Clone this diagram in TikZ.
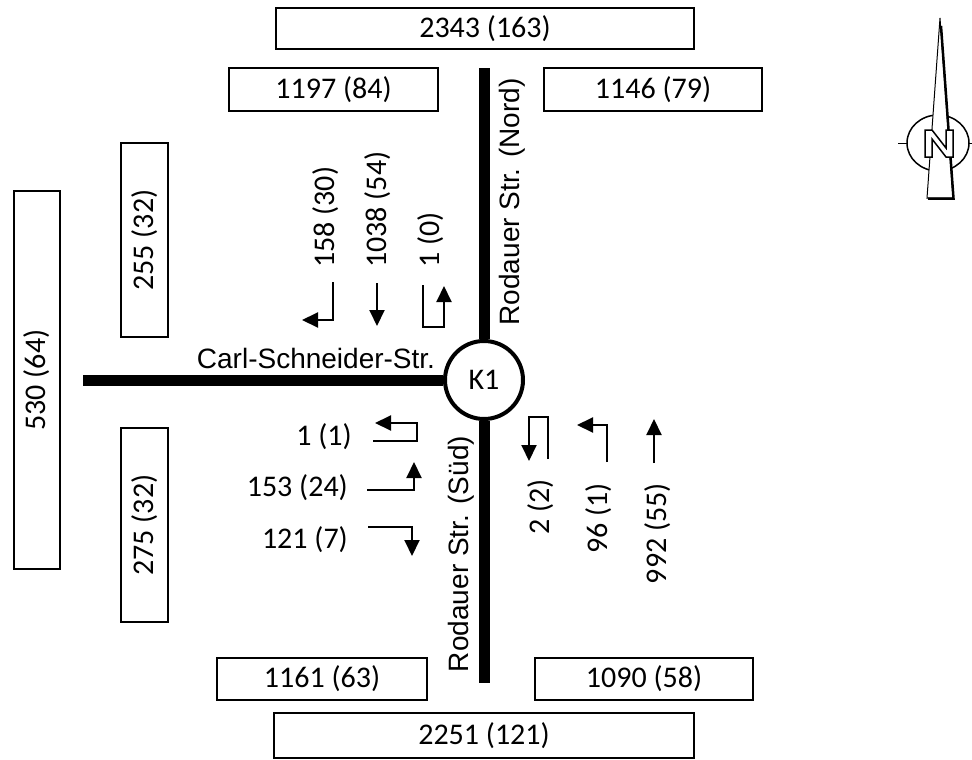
\documentclass[tikz,border=0pt]{standalone}
\usepackage{fontspec}
\setmainfont{Carlito}
\newfontfamily\arialf{Liberation Sans}
\usetikzlibrary{arrows.meta}
\begin{document}
\begin{tikzpicture}[x=1pt,y=-1pt,
  countbox/.style={draw,line width=2pt,inner sep=0pt,font=\fontsize{30}{35}\selectfont},
  road/.style={line width=11pt},
  lbl/.style={inner sep=0pt,font=\fontsize{30}{35}\selectfont},
  street/.style={inner sep=0pt,font=\arialf\fontsize{28}{34}\selectfont},
  turn/.style={line width=2pt,line join=miter,-{Triangle[length=16pt 0 0,width=15pt 0 0]}}]
\useasboundingbox (0,0) rectangle (972,760);
% count boxes
\node[countbox,minimum width=418pt,minimum height=41pt] (bN) at (485,28.5) {2343 (163)};
\node[countbox,minimum width=209pt,minimum height=43pt] (bNL) at (333.5,89.5) {1197 (84)};
\node[countbox,minimum width=218pt,minimum height=43pt] (bNR) at (653,89.5) {1146 (79)};
\node[countbox,rotate=90,minimum width=194pt,minimum height=47pt] (bWU) at (144.5,240) {255 (32)};
\node[countbox,rotate=90,minimum width=378pt,minimum height=46pt] (bW) at (37,380) {530 (64)};
\node[countbox,rotate=90,minimum width=194pt,minimum height=47pt] (bWL) at (144.5,525) {275 (32)};
\node[countbox,minimum width=210pt,minimum height=42pt] (bSL) at (322,679) {1161 (63)};
\node[countbox,minimum width=218pt,minimum height=42pt] (bSR) at (644,679) {1090 (58)};
\node[countbox,minimum width=420pt,minimum height=45pt] (bS) at (484,735.5) {2251 (121)};
% roads and junction
\node[circle,draw,line width=4pt,minimum size=78pt,inner sep=0pt,lbl] (K1) at (484,380) {K1};
\coordinate (nEnd) at (484,68);
\coordinate (sEnd) at (484,683);
\coordinate (wEnd) at (83,380);
\draw[road] (K1) -- (nEnd);
\draw[road] (K1) -- (sEnd);
\draw[road] (K1) -- (wEnd);
% street names
\node[street] (cs) at (316,358) {Carl-Schneider-Str.};
\node[street,rotate=90] (rn) at (512,202) {Rodauer Str. (Nord)};
\node[street,rotate=90] (rs) at (461,554) {Rodauer Str. (Süd)};
% north approach
\node[lbl,rotate=90,anchor=west] (t158) at (326,268) {158 (30)};
\node[lbl,rotate=90,anchor=west] (t1038) at (378,268) {1038 (54)};
\node[lbl,rotate=90,anchor=west] (t10) at (431,268) {1 (0)};
\draw[turn] (333,282) -- (333,320) -- (302,320);
\draw[turn] (377,283) -- (377,326);
\draw[turn] (423,285) -- (423,327) -- (444,327) -- (444,286);
% west approach
\node[lbl,anchor=east] (t11) at (352,437) {1 (1)};
\node[lbl,anchor=east] (t153) at (348,488) {153 (24)};
\node[lbl,anchor=east] (t121) at (348,540) {121 (7)};
\draw[turn] (373,441) -- (417,441) -- (417,423) -- (375,423);
\draw[turn] (367,490) -- (414,490) -- (414,462);
\draw[turn] (368,527) -- (412,527) -- (412,556);
% south approach
\node[lbl,rotate=90,anchor=east] (t22) at (541,479) {2 (2)};
\node[lbl,rotate=90,anchor=east] (t96) at (599,483) {96 (1)};
\node[lbl,rotate=90,anchor=east] (t992) at (658,483) {992 (55)};
\draw[turn] (548,459) -- (548,417) -- (529,417) -- (529,461);
\draw[turn] (607,462) -- (607,425) -- (577,425);
\draw[turn] (654,463) -- (654,419);
% north arrow
\draw[line width=1pt] (898,143) -- (972,143);
\draw[line width=1.5pt,fill=white] (938,143) ellipse (31pt and 28pt);
\draw[line width=1pt] (898,143) -- (907,143) (969,143) -- (972,143);
\draw[line width=1pt,fill=white] (940,18) -- (953,198) -- (927,198) -- cycle;
\draw[line width=2.5pt] (941,26) -- (953.5,198.5) -- (928,198.5);
\draw[line width=1.5pt,fill=white,line join=miter] (925,157) -- (925,130) -- (932,130) -- (946,148) -- (946,130) -- (953,130) -- (953,157) -- (946,157) -- (932,139) -- (932,157) -- cycle;
\end{tikzpicture}
\end{document}
